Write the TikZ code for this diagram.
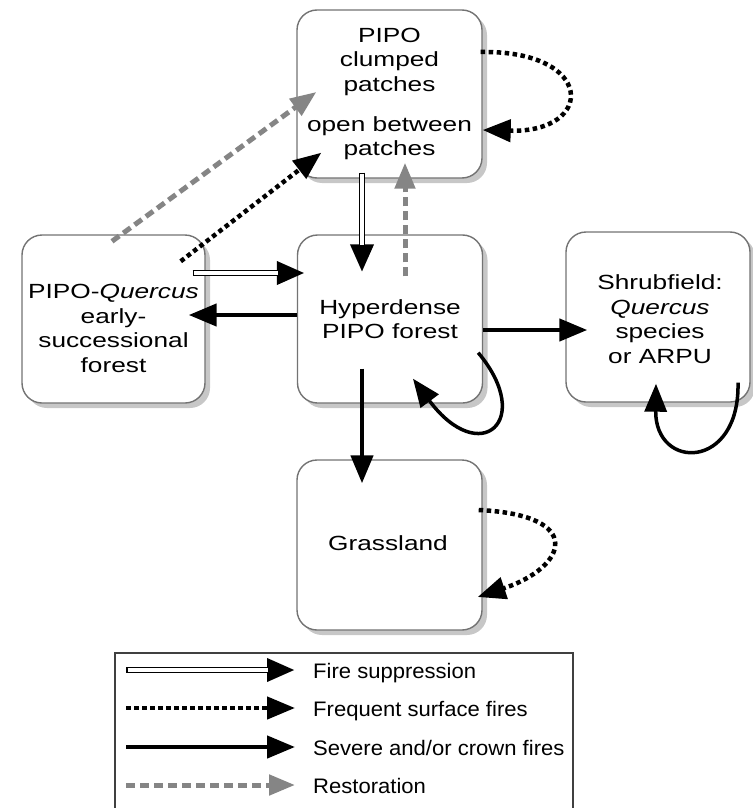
\documentclass[tikz,border=0pt]{standalone}
\usepackage{fontspec}
\setmainfont{Liberation Sans}
\newfontfamily\boxfont[FakeStretch=1.28]{Liberation Sans}
\newfontfamily\legfont[FakeStretch=1.05]{Liberation Sans}
\usepackage{tikz}
\usetikzlibrary{calc,arrows.meta,shadows}

\tikzset{
  statebox/.style={draw=black!55, line width=1.4pt, rounded corners=20pt, fill=white,
    minimum width=185pt, minimum height=168pt, inner sep=0pt,
    drop shadow={shadow xshift=5pt, shadow yshift=-5pt, fill=black!22, opacity=1}},
  boxtxt/.style={font=\boxfont\fontsize{20.5}{24.5}\selectfont, align=center, inner sep=0pt},
  legtxt/.style={font=\legfont\fontsize{21}{24}\selectfont, anchor=base west, inner sep=0pt},
  sev/.style={line width=4.5pt, -{Triangle[length=28pt,width=22pt]}},
  freq/.style={line width=4.5pt, dash pattern=on 4.5pt off 3.5pt, -{Triangle[length=28pt,width=22pt]}},
  rest/.style={draw=black!48, line width=5pt, dash pattern=on 9pt off 5pt, -{Triangle[length=26pt,width=20pt]}},
  fsup/.style={line width=6.5pt, -{Triangle[length=28pt,width=22pt]},
    postaction={draw=white, line width=3.5pt, -, shorten >=27pt, shorten <=1.5pt}}
}

\begin{document}
\begin{tikzpicture}[x=1pt,y=-1pt]

\useasboundingbox (0,0) rectangle (752,808);

% states
\node[statebox] (clump) at (389.5,94) {};
\node[statebox, minimum width=183pt] (early) at (113.5,319) {};
\node[statebox] (hyper) at (390,319) {};
\node[statebox, minimum width=184pt, minimum height=170pt] (shrub) at (658,317) {};
\node[statebox, minimum height=170pt] (grass) at (389.5,545) {};

\node[boxtxt] (clumpT) at (389.5,93.8) {PIPO\\clumped\\patches\\[15.5pt]open between\\patches};
\node[boxtxt] (earlyT) at (113.5,328.5) {PIPO-\textit{Quercus}\\early-\\successional\\forest};
\node[boxtxt] (hyperT) at (390,319) {Hyperdense\\PIPO forest};
\node[boxtxt] (shrubT) at (660,319) {Shrubfield:\\\textit{Quercus}\\species\\or ARPU};
\node[boxtxt] (grassT) at (388,543) {Grassland};

% fire suppression
\draw[fsup] ($(early.east)+(-13,-46)$) -- ($(hyper.west)+(8,-46)$);
\draw[fsup] ($(clump.south)+(-27.5,-6)$) -- ($(hyper.north)+(-28,38)$);

% severe and/or crown fires
\draw[sev] ($(hyper.west)+(0,-4)$) -- ($(early.east)+(-17,-4)$);
\draw[sev] ($(hyper.east)+(0,11)$) -- ($(shrub.west)+(22,13)$);
\draw[sev] ($(hyper.south)+(-28,-35)$) -- ($(grass.north)+(-27.5,24)$);
\draw[sev, line width=3.5pt] ($(hyper.south east)+(-5,-51)$) .. controls +(57,68) and +(67,90) .. ($(hyper.south)+(23,-25)$);
\draw[sev, line width=3.5pt] ($(shrub.south)+(80,-20)$) .. controls +(2,88) and +(-1,87) .. ($(shrub.south)+(-2,-19)$);

% frequent surface fires
\draw[freq] ($(early.north east)+(-25,27)$) -- ($(clump.south west)+(25,-26)$);
\draw[freq] ($(clump.east)+(-2,-42)$) .. controls +(115,-2) and +(113,3) .. ($(clump.east)+(0,36)$);
\draw[freq] ($(grass.east)+(-4,-35)$) .. controls +(107,5) and +(90,-30) .. ($(grass.east)+(-5,52)$);

% restoration
\draw[rest] ($(early.north)+(-1.5,7)$) -- ($(clump.west)+(20,-2)$);
\draw[rest] ($(hyper.north)+(15,42)$) -- ($(clump.south)+(15.5,-16)$);

% legend
\draw[line width=1.2pt, black!75] (115,812) -- (115,653) -- (573,653) -- (573,812);
\foreach \st/\yy/\tx [count=\i] in {fsup/678/{Fire suppression}, freq/716/{Frequent surface fires},
    sev/755/{Severe and/or crown fires}, rest/793/{Restoration}}
{
  \node[legtxt] (leg\i) at (313,\yy) {\tx};
  \draw[\st] ($(leg\i.base west)+(-187,-8)$) -- ($(leg\i.base west)+(-18,-8)$);
}

\end{tikzpicture}
\end{document}
